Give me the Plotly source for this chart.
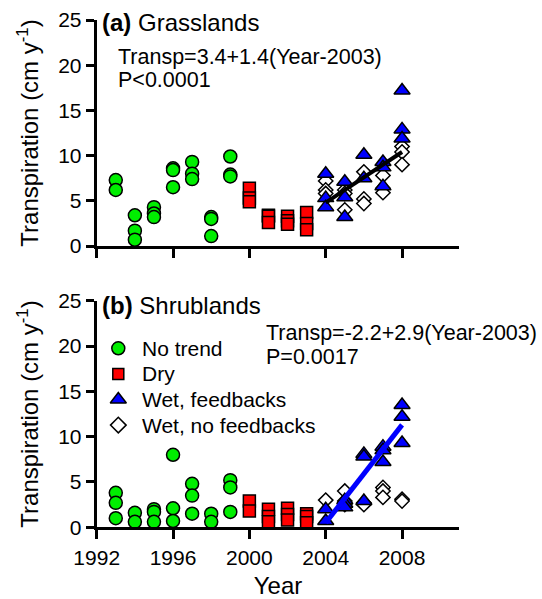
import plotly.graph_objects as go

# ---------------- data ----------------
# (a) Grasslands
grass_nt_x = [1993, 1993, 1994, 1994, 1994, 1995, 1995, 1995, 1996, 1996, 1996,
              1997, 1997, 1997, 1998, 1998, 1998, 1999, 1999, 1999]
grass_nt_y = [7.3, 6.2, 3.4, 1.7, 0.7, 4.3, 3.6, 3.2, 8.6, 8.4, 6.5,
              9.3, 8.0, 7.4, 3.2, 3.0, 1.1, 9.9, 7.9, 7.7]
grass_dry_x = [2000, 2000, 2000, 2001, 2001, 2001, 2002, 2002, 2002, 2003, 2003, 2003]
grass_dry_y = [6.4, 5.3, 4.9, 3.4, 3.3, 2.6, 3.3, 2.8, 2.4, 3.7, 2.5, 1.8]
grass_wf_x = [2004, 2004, 2004, 2005, 2005, 2005, 2006, 2006, 2007, 2007, 2007, 2008, 2008, 2008]
grass_wf_y = [8.0, 5.3, 4.3, 7.1, 5.4, 3.2, 10.1, 7.5, 9.3, 8.7, 6.6, 17.2, 12.9, 11.9]
grass_wnf_x = [2004, 2004, 2004, 2005, 2005, 2005, 2006, 2006, 2006, 2007, 2007, 2007, 2008, 2008, 2008]
grass_wnf_y = [7.2, 6.2, 5.8, 6.2, 5.8, 4.0, 8.2, 5.2, 4.7, 7.8, 6.4, 5.9, 11.0, 10.4, 9.0]
grass_fit_x = [2004, 2008]
grass_fit_y = [4.8, 10.4]

# (b) Shrublands
shrub_nt_x = [1993, 1993, 1993, 1994, 1994, 1995, 1995, 1995, 1996, 1996, 1996,
              1997, 1997, 1997, 1998, 1998, 1999, 1999, 1999]
shrub_nt_y = [3.8, 2.7, 1.0, 1.6, 0.6, 2.0, 1.7, 0.6, 8.0, 2.1, 0.7,
              4.8, 3.5, 1.5, 1.5, 0.6, 5.2, 4.4, 1.7]
shrub_dry_x = [2000, 2000, 2001, 2001, 2001, 2002, 2002, 2002, 2003, 2003, 2003]
shrub_dry_y = [2.9, 1.8, 2.0, 1.2, 0.6, 2.1, 1.4, 0.8, 1.5, 1.2, 0.5]
shrub_wf_x = [2004, 2004, 2005, 2005, 2005, 2006, 2006, 2006, 2007, 2007, 2007, 2008, 2008, 2008]
shrub_wf_y = [2.0, 0.7, 3.0, 2.6, 2.2, 8.1, 7.8, 2.9, 8.9, 8.5, 7.2, 13.5, 12.2, 9.3]
shrub_wnf_x = [2004, 2005, 2005, 2005, 2006, 2006, 2007, 2007, 2007, 2008, 2008]
shrub_wnf_y = [3.0, 4.0, 2.9, 2.5, 2.7, 2.5, 4.4, 4.0, 3.3, 3.1, 2.9]
shrub_fit_x = [2004, 2008]
shrub_fit_y = [0.5, 11.3]

legend_labels = ["No trend", "Dry", "Wet, feedbacks", "Wet, no feedbacks"]
x_tickvals = [1992, 1996, 2000, 2004, 2008]
y_tickvals = [0, 5, 10, 15, 20, 25]

# ---------------- styles ----------------
W, H = 542, 599
FONT = "Liberation Sans, Arial, sans-serif"
GREEN, RED, BLUE = "#00ee00", "#ff0000", "#0000ff"
OUT = dict(color="black", width=1.5)
styles = [
    dict(symbol="circle", size=13, color=GREEN, line=OUT),
    dict(symbol="square", size=12, color=RED, line=OUT),
    dict(symbol="triangle-up", size=14, color=BLUE, line=OUT),
    dict(symbol="diamond", size=11, color="white", line=OUT),
]
leg_styles = [
    dict(symbol="circle", size=13, color=GREEN, line=OUT),
    dict(symbol="square", size=11, color=RED, line=OUT),
    dict(symbol="triangle-up", size=14, color=BLUE, line=OUT),
    dict(symbol="diamond", size=12, color="white", line=OUT),
]

def px_x(p):
    return p / W

def px_y(p):
    return 1 - p / H

fig = go.Figure()

def add_panel(xa, ya, nt, dry, wf, wnf, fit, fitcolor, fitw):
    kw = dict(xaxis=xa, yaxis=ya, mode="markers", showlegend=False, hoverinfo="skip")
    fig.add_trace(go.Scatter(x=nt[0], y=nt[1], marker=styles[0], **kw))
    fig.add_trace(go.Scatter(x=dry[0], y=dry[1], marker=styles[1], **kw))
    fig.add_trace(go.Scatter(x=wnf[0], y=wnf[1], marker=styles[3], **kw))
    fig.add_trace(go.Scatter(x=wf[0], y=wf[1], marker=styles[2], **kw))
    fig.add_trace(go.Scatter(x=fit[0], y=fit[1], xaxis=xa, yaxis=ya, mode="lines",
                             line=dict(color=fitcolor, width=fitw), showlegend=False,
                             hoverinfo="skip"))

add_panel("x", "y", (grass_nt_x, grass_nt_y), (grass_dry_x, grass_dry_y),
          (grass_wf_x, grass_wf_y), (grass_wnf_x, grass_wnf_y),
          (grass_fit_x, grass_fit_y), "black", 4)
add_panel("x2", "y2", (shrub_nt_x, shrub_nt_y), (shrub_dry_x, shrub_dry_y),
          (shrub_wf_x, shrub_wf_y), (shrub_wnf_x, shrub_wnf_y),
          (shrub_fit_x, shrub_fit_y), BLUE, 5)

# manual legend on a pixel-based full-figure axis
LEG_MX, LEG_TX, LEG_TOP, LEG_STEP = 118.3, 139.5, 348.3, 25.6
for i, lab in enumerate(legend_labels):
    fig.add_trace(go.Scatter(x=[LEG_MX], y=[LEG_TOP + i * LEG_STEP], xaxis="x3", yaxis="y3",
                             mode="markers", marker=leg_styles[i], showlegend=False,
                             hoverinfo="skip", cliponaxis=False))

annotations = []
for i, lab in enumerate(legend_labels):
    annotations.append(dict(text=lab, x=LEG_TX, y=LEG_TOP + i * LEG_STEP, xref="x3", yref="y3",
                            xanchor="left", yanchor="middle", showarrow=False,
                            font=dict(size=21, family=FONT, color="black")))

def txt(t, x, y, size=21.5):
    annotations.append(dict(text=t, x=px_x(x), y=px_y(y), xref="paper", yref="paper",
                            xanchor="left", yanchor="middle", showarrow=False,
                            font=dict(size=size, family=FONT, color="black")))

txt("<b>(a)</b> Grasslands", 99.5, 22.7, 24)
txt("Transp=3.4+1.4(Year-2003)", 115.5, 56.7)
txt("P&lt;0.0001", 115.5, 80)
txt("<b>(b)</b> Shrublands", 99.5, 305, 24)
txt("Transp=-2.2+2.9(Year-2003)", 264, 333.3)
txt("P=0.0017", 264, 356.7)

xdom = [px_x(96.7), px_x(459.3)]
common_x = dict(domain=xdom, range=[1992, 2011], tickvals=x_tickvals, ticks="outside",
                ticklen=9, tickwidth=3, tickcolor="black", showline=True, linewidth=3,
                linecolor="black", showgrid=False, zeroline=False, automargin=False,
                tickfont=dict(size=21, family=FONT, color="black"))
common_y = dict(range=[0, 25], tickvals=y_tickvals, ticks="outside", ticklen=8, tickwidth=3,
                tickcolor="black", showline=True, linewidth=3, linecolor="black",
                showgrid=False, zeroline=False, automargin=False,
                tickfont=dict(size=21, family=FONT, color="black"),
                title=dict(text="Transpiration (cm y<sup>-1</sup>)", standoff=13,
                           font=dict(size=24, family=FONT, color="black")))

fig.update_layout(
    width=W, height=H,
    margin=dict(l=0, r=0, t=0, b=0),
    paper_bgcolor="white", plot_bgcolor="rgba(0,0,0,0)",
    showlegend=False,
    xaxis=dict(anchor="y", showticklabels=False, **common_x),
    yaxis=dict(anchor="x", domain=[px_y(246), px_y(20)], **common_y),
    xaxis2=dict(anchor="y2", showticklabels=True,
                title=dict(text="Year", standoff=12, font=dict(size=24, family=FONT, color="black")),
                **common_x),
    yaxis2=dict(anchor="x2", domain=[px_y(527.3), px_y(300.7)], **common_y),
    xaxis3=dict(domain=[0, 1], range=[0, W], visible=False, anchor="y3"),
    yaxis3=dict(domain=[0, 1], range=[H, 0], visible=False, anchor="x3"),
    annotations=annotations,
)

fig.write_html("out.html")
